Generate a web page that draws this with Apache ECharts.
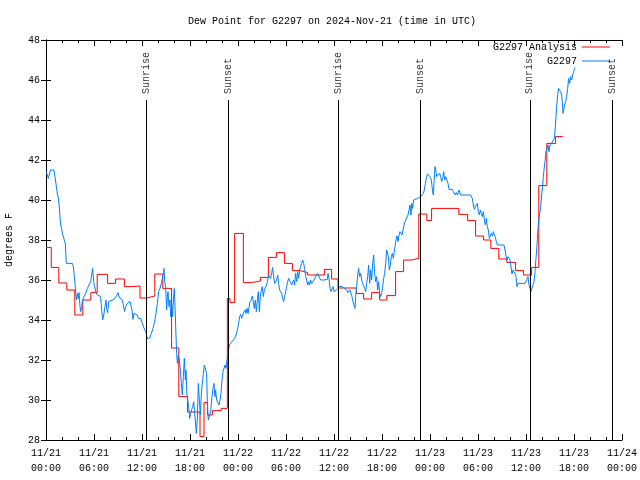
<!DOCTYPE html>
<html>
<head>
<meta charset="utf-8">
<script src="https://cdn.jsdelivr.net/npm/echarts@6/dist/echarts.min.js"></script>
<style>html,body{margin:0;padding:0;background:#fff;}#c{width:640px;height:480px;}</style>
</head>
<body>
<div id="c"></div>
<script>
// hours since 2024-11-21 00:00 UTC
const xTickLabels = ['11/21\n00:00','11/21\n06:00','11/21\n12:00','11/21\n18:00','11/22\n00:00','11/22\n06:00','11/22\n12:00','11/22\n18:00','11/23\n00:00','11/23\n06:00','11/23\n12:00','11/23\n18:00','11/24\n00:00'];

const redHours = [0,0.66,1.6,2.6,3.6,4.6,5.6,6.4,7.7,8.7,9.8,10.7,11.75,12.6,13.6,14.6,15.7,16.6,17.7,19.25,19.75,20.2,20.8,21.9,22.67,23.0,23.58,24.67,25.7,26.8,27.8,28.8,29.8,30.8,31.8,32.7,34.8,35.7,36.5,38.8,39.7,40.7,41.7,42.6,43.7,44.7,45.7,46.6,47.6,48.2,51.6,52.7,53.7,54.7,55.6,56.6,57.6,58.7,59.7,60.7,61.6,62.6,63.7,64.6];
const redDew = [37.63,36.63,35.85,35.5,34.25,35.0,35.37,36.28,35.83,36.05,35.67,35.7,35.1,35.2,36.3,35.58,32.6,30.17,29.4,28.17,29.87,29.25,29.47,29.58,35.08,34.87,38.33,35.87,35.95,36.13,37.13,37.37,36.83,36.47,36.37,36.25,36.53,36.05,35.6,35.33,35.05,35.37,35.0,35.22,36.42,37.0,37.08,39.3,38.97,39.58,39.28,38.97,38.2,38.0,37.58,37.05,36.88,36.47,36.25,36.63,40.72,42.83,43.17,43.17];

const blueHours = [0.04,0.17,0.29,0.46,0.58,1.0,1.125,1.25,1.42,1.54,1.67,1.79,1.92,2.08,2.29,2.42,2.54,3.29,3.42,3.5,3.625,3.75,3.83,3.92,4.04,4.125,4.25,4.33,4.46,4.58,4.75,4.96,5.17,5.375,5.58,5.71,5.83,5.96,6.08,6.25,6.42,6.67,6.83,6.96,7.08,7.25,7.375,7.5,7.58,7.71,7.83,8.0,8.5,8.875,9.0,9.125,9.33,9.54,9.67,9.83,9.96,10.17,10.375,10.5,10.625,10.75,10.875,11.0,11.2,11.4,11.54,11.83,12.04,12.25,
12.46,12.67,12.96,13.17,13.375,13.58,13.75,13.92,14.08,14.25,14.42,14.54,14.67,14.75,14.83,14.96,15.08,15.17,15.25,15.375,15.5,15.58,15.71,15.83,15.92,16.04,16.125,16.21,16.33,16.42,16.54,16.67,16.79,16.92,17.04,17.17,17.29,17.42,17.5,17.625,17.71,17.83,17.96,18.08,18.21,18.33,18.46,18.58,18.71,18.79,18.92,19.04,19.17,19.29,19.42,19.54,19.67,19.79,20.0,20.08,20.17,20.29,20.46,20.58,20.75,20.875,21.0,21.125,21.2,21.33,21.5,21.625,21.75,21.875,22.0,22.125,22.25,22.375,22.5,22.625,22.75,22.92,23.08,23.25,23.42,23.58,23.75,23.92,24.08,24.2,24.33,24.46,24.58,24.75,
24.875,25.0,25.125,25.25,25.375,25.5,25.67,25.79,25.92,26.04,26.17,26.29,26.42,26.54,26.67,26.79,26.92,27.04,27.17,27.29,27.42,27.58,27.71,27.83,27.96,28.08,28.21,28.33,28.46,28.58,28.71,28.83,28.96,29.08,29.21,29.33,29.46,29.58,29.71,29.83,29.96,30.08,30.21,30.33,30.46,30.58,30.71,30.83,30.96,31.08,31.2,31.33,31.46,31.58,31.71,31.83,31.96,32.08,32.21,32.33,32.46,32.58,32.71,32.83,32.96,33.08,33.21,33.33,33.5,33.71,33.92,34.125,34.33,34.75,35.17,35.25,35.375,35.5,35.625,35.75,35.875,36.0,36.33,36.5,36.67,37.04,37.25,
37.58,37.75,38.0,38.125,38.25,38.375,38.5,38.625,38.71,38.83,38.96,39.08,39.21,39.33,39.46,39.58,39.71,39.83,39.96,40.08,40.21,40.33,40.46,40.58,40.71,40.83,40.96,41.08,41.21,41.33,41.46,41.58,41.71,41.83,41.96,42.08,42.21,42.33,42.46,42.58,42.67,42.79,42.92,43.04,43.17,43.29,43.42,43.5,43.625,43.75,43.875,44.0,44.125,44.25,44.375,44.5,44.625,44.75,44.875,45.0,45.125,45.25,45.375,45.5,45.625,45.71,45.83,45.96,46.08,46.21,46.42,46.625,46.83,47.04,47.17,47.29,47.42,47.54,47.67,47.875,48.0,48.17,48.33,48.42,48.5,48.625,48.75,48.83,48.96,49.08,49.21,49.33,49.46,49.58,49.71,49.83,49.96,50.17,
50.25,50.375,50.79,50.92,51.04,51.17,51.29,51.42,51.54,51.625,51.83,53.08,53.29,53.42,53.54,53.67,53.79,53.92,54.04,54.17,54.29,54.42,54.54,54.67,54.79,54.92,55.04,55.17,55.29,55.42,55.54,55.67,55.79,55.92,56.04,56.17,56.29,56.42,57.25,57.375,57.5,57.625,57.75,57.875,58.0,58.125,58.25,58.375,58.5,58.625,58.75,58.875,59.0,59.875,60.08,60.25,60.375,60.5,60.625,60.83,61.0,61.125,61.25,61.375,61.5,61.625,61.75,61.83,61.96,62.08,62.17,62.25,62.375,62.5,62.625,62.75,62.875,63.0,63.125,63.25,63.42,63.54,63.6,63.67,63.75,63.83,63.96,64.08,64.21,64.33,64.46,64.54,64.625,64.71,64.83,64.96,65.08,65.21,65.33,65.46,65.58,65.71,65.83,65.96,66.125];
const blueDew = [41.4,41.37,41.08,41.35,41.5,41.5,41.4,40.8,40.3,40.1,39.6,38.9,38.6,38.3,38.25,37.8,36.83,36.83,36.67,36.33,35.83,35.17,35.0,35.33,35.08,35.37,34.67,34.42,34.67,35.0,35.17,35.33,35.58,35.75,35.92,36.25,36.58,35.92,35.67,35.37,35.25,35.33,35.17,34.5,34.0,34.33,34.67,35.0,34.58,34.37,34.92,35.0,35.03,35.25,35.37,35.15,35.08,35.0,34.75,34.42,34.67,34.83,34.75,34.92,35.0,34.5,34.03,34.33,34.33,34.25,34.08,34.08,34.0,33.6,
33.42,33.08,33.08,33.33,33.58,33.92,34.33,34.83,35.42,35.58,35.83,36.08,36.33,36.58,35.92,35.67,34.5,35.17,35.42,34.67,35.0,34.17,34.83,34.17,35.0,35.58,34.67,33.67,32.33,31.83,32.25,32.0,31.5,30.83,30.25,31.17,32.08,31.0,31.5,30.17,30.0,29.67,29.08,29.33,29.42,29.67,29.92,29.33,28.75,28.33,29.08,30.83,30.0,29.25,30.33,30.83,31.33,31.75,31.75,31.33,29.83,29.0,29.0,29.42,30.17,30.58,30.83,30.17,30.5,30.0,29.92,29.75,30.0,30.33,31.0,31.42,31.58,31.75,31.58,32.0,32.33,32.75,32.83,32.92,33.0,33.08,33.25,33.5,33.83,34.17,34.28,34.08,34.25,34.2,
34.5,34.33,34.58,34.33,34.63,34.92,35.03,35.2,35.17,34.58,35.0,34.42,35.0,35.42,34.42,35.17,35.5,35.67,35.17,35.5,35.58,35.75,36.0,36.25,36.33,36.08,36.33,36.63,36.17,35.83,35.83,36.0,36.25,35.83,35.5,35.5,35.33,35.08,34.92,35.17,35.42,35.67,35.92,36.08,36.0,35.87,35.75,35.67,36.0,35.75,36.33,35.92,36.42,36.08,36.5,36.67,36.83,37.0,36.83,36.58,36.17,36.0,35.75,35.92,35.75,36.0,35.83,35.92,36.0,36.08,36.33,36.33,36.0,36.0,36.03,36.33,36.08,35.58,35.42,35.42,35.67,35.42,35.5,35.58,35.67,35.67,35.67,
35.5,35.37,35.5,35.33,35.17,34.92,34.75,34.58,35.17,35.67,36.25,36.58,36.17,36.33,36.0,35.83,35.75,35.58,35.42,35.83,36.17,36.75,35.83,36.5,36.0,36.83,37.25,36.33,35.92,36.17,35.5,35.92,35.33,35.17,35.33,35.67,36.08,36.33,36.83,37.5,37.58,37.17,36.5,36.75,37.17,37.33,37.08,37.33,37.67,38.0,38.2,37.92,38.25,38.42,38.33,38.25,38.5,38.75,38.92,38.83,38.92,39.25,39.33,39.75,39.25,39.83,39.58,40.0,39.92,40.0,40.08,40.12,40.17,40.17,40.33,40.5,40.83,41.08,41.3,41.3,41.17,41.0,40.42,40.25,40.83,41.67,41.42,41.17,41.25,41.08,41.33,41.17,40.92,41.08,41.42,41.0,41.17,41.08,
40.83,40.53,40.53,40.42,40.33,40.25,40.37,40.25,40.37,40.5,40.25,40.25,40.08,39.75,39.53,39.67,39.58,39.83,39.42,39.25,39.5,39.33,39.17,39.42,39.0,38.75,39.08,38.67,38.5,38.08,38.17,38.33,38.2,38.42,38.33,38.13,37.92,37.75,37.75,37.5,37.2,37.0,37.17,37.25,37.0,36.67,36.3,36.5,36.42,36.33,36.17,35.67,35.83,35.83,36.0,36.17,35.75,35.67,35.42,35.42,35.92,36.42,37.08,37.75,38.58,39.08,39.42,39.67,40.25,40.75,41.17,41.5,41.92,42.42,42.58,42.75,42.42,42.75,42.7,42.88,42.8,43.08,43.08,43.67,44.17,44.67,45.25,45.58,45.67,45.42,45.25,44.92,44.33,44.5,44.75,44.92,45.17,45.58,46.08,45.83,46.17,46.0,46.25,46.42,46.62];

const sunHours = [12.5, 22.78, 36.55, 46.78, 60.47, 70.8];
const sunNames = ['Sunrise','Sunset','Sunrise','Sunset','Sunrise','Sunset'];
const sunTop = 45;

const FONT = 'Liberation Mono';
const txt = {fontFamily: FONT, fontSize: 10, color: '#000'};

const zip = (a, b) => a.map((v, i) => [v, b[i]]);

const axisCommonX = {
  type: 'value', min: 0, max: 72, interval: 6,
  axisLine: {show: true, lineStyle: {color: '#000', width: 1}},
  axisTick: {show: true, inside: true, length: 6, lineStyle: {color: '#000'}},
  minorTick: {show: true, splitNumber: 3, length: 3, lineStyle: {color: '#000'}},
  splitLine: {show: false}
};
const axisCommonY = {
  type: 'value', min: 28, max: 48, interval: 2,
  axisLine: {show: true, lineStyle: {color: '#000', width: 1}},
  axisTick: {show: true, inside: true, length: 5, lineStyle: {color: '#000'}},
  splitLine: {show: false}
};

const chart = echarts.init(document.getElementById('c'), null, {renderer: 'canvas'});
chart.setOption({
  animation: false,
  backgroundColor: '#fff',
  title: {
    text: 'Dew Point for G2297 on 2024-Nov-21 (time in UTC)',
    left: 183, top: 11,
    textStyle: Object.assign({fontWeight: 'normal'}, txt)
  },
  legend: {
    data: ['G2297 Analysis', 'G2297'],
    orient: 'vertical', right: 25, top: 37, align: 'right',
    icon: 'rect', itemWidth: 28, itemHeight: 1, itemGap: 4,
    textStyle: txt
  },
  grid: {left: 46, right: 18, top: 40, bottom: 40, show: false, containLabel: false, outerBoundsMode: 'none'},
  xAxis: [
    Object.assign({}, axisCommonX, {
      position: 'bottom',
      axisLabel: Object.assign({margin: 6, lineHeight: 15,
        formatter: v => xTickLabels[Math.round(v / 6)]}, txt)
    }),
    Object.assign({}, axisCommonX, {position: 'top', axisLabel: {show: false}})
  ],
  yAxis: [
    Object.assign({}, axisCommonY, {
      position: 'left',
      name: 'degrees F', nameLocation: 'middle', nameGap: 32,
      nameTextStyle: txt,
      axisLabel: Object.assign({margin: 6}, txt)
    }),
    Object.assign({}, axisCommonY, {position: 'right', axisLabel: {show: false}})
  ],
  series: [
    {
      name: 'G2297 Analysis', type: 'line', step: 'end',
      data: zip(redHours, redDew), showSymbol: false, symbol: 'none',
      color: '#ff0000', lineStyle: {width: 1, color: '#ff0000'}, z: 2
    },
    {
      name: 'G2297', type: 'line',
      data: zip(blueHours, blueDew), showSymbol: false, symbol: 'none',
      color: '#0080ff', lineStyle: {width: 1, color: '#0080ff'}, z: 3
    },
    {
      name: 'sun', type: 'scatter', symbolSize: 0, z: 4,
      data: sunHours.map((t, i) => ({value: [t, sunTop], name: sunNames[i]})),
      label: Object.assign({
        show: true, position: 'top', distance: 6, rotate: 90,
        align: 'left', verticalAlign: 'middle',
        formatter: p => p.name
      }, txt),
      markLine: {
        silent: true, symbol: ['none', 'none'], animation: false,
        label: {show: false},
        lineStyle: {color: '#000', width: 1, type: 'solid'},
        data: sunHours.map(t => [{coord: [t, 28]}, {coord: [t, sunTop]}])
      }
    }
  ]
});
</script>
</body>
</html>
